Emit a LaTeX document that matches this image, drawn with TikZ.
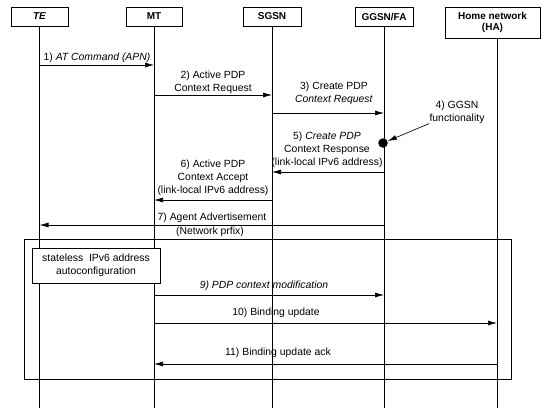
\documentclass[tikz,border=0pt]{standalone}
\usepackage{fontspec}
\setmainfont{Liberation Sans}
\usetikzlibrary{arrows.meta}

\begin{document}
\begin{tikzpicture}[x=1pt,y=-1pt,line width=0.65pt,
  font=\fontsize{10.4}{12.8}\selectfont,
  head/.style={draw,minimum height=19pt,inner sep=1pt,font=\fontsize{10}{11.5}\selectfont\bfseries},
  msg/.style={-{Latex[length=9pt,width=5pt]}},
  lbl/.style={align=center,inner sep=0pt}]
  \useasboundingbox (0,0) rectangle (549,410);
  \node[head,minimum width=57pt] (te) at (39.5,16.5) {\itshape TE};
  \node[head,minimum width=56pt] (mt) at (154,16.5) {MT};
  \node[head,minimum width=58pt] (sgsn) at (272,16.5) {SGSN};
  \node[head,minimum width=58pt] (ggsn) at (384,16.5) {GGSN/FA};
  \node[head,minimum width=95pt,minimum height=31pt,align=center] (ha) at (492.5,22.5) {Home network\\(HA)};
  \foreach \n in {te,mt,sgsn,ggsn}
    \draw (\n.south) -- (\n |- 0,408);
  \coordinate (hal) at (497,38);
  \draw (hal) -- (hal |- 0,408);

  \draw[msg] (te |- 0,65) -- (mt |- 0,65);
  \node[lbl] (l1) at (97,57.5) {1) \textit{AT Command (APN)}};
  \draw[msg] (mt |- 0,95) -- (sgsn |- 0,95);
  \node[lbl] (l2) at (213,82) {2) Active PDP\\Context Request};
  \draw[msg] (sgsn |- 0,113) -- (ggsn |- 0,113);
  \node[lbl] (l3) at (334,93) {3) Create PDP\\\textit{Context Request}};
  \node[circle,fill,inner sep=0pt,minimum size=9.5pt] (dot) at (383,143) {};
  \node[lbl] (l4) at (457,112) {4) GGSN\\functionality};
  \draw[msg] (l4.south west) -- (dot);
  \draw[msg] (ggsn |- 0,172) -- (sgsn |- 0,172);
  \node[lbl] (l5) at (327,150) {5) \textit{Create PDP}\\Context Response\\(link-local IPv6 address)};
  \draw[msg] (sgsn |- 0,200) -- (mt |- 0,200);
  \node[lbl] (l6) at (213,178) {6) Active PDP\\Context Accept\\(link-local IPv6 address)};
  \draw[msg] (ggsn |- 0,225) -- (te |- 0,225);
  \node[lbl] (l7a) at (212,217.5) {7) Agent Advertisement};
  \node[lbl] (l7b) at (210,232) {(Network prfix)};

  \draw (24,239) rectangle (511,379);
  \node[draw,fill=white,align=center,minimum width=128pt,minimum height=35pt,inner sep=1pt] (auto) at (96,265.5) {stateless\ \ IPv6 address\\autoconfiguration};
  \draw[msg] (mt |- 0,295) -- (ggsn |- 0,295);
  \node[lbl] (l9) at (264,286) {\itshape 9) PDP context modification};
  \draw[msg] (mt |- 0,323) -- (hal |- 0,323);
  \node[lbl] (l10) at (276,313) {10) Binding update};
  \draw[msg] (hal |- 0,364) -- (mt |- 0,364);
  \node[lbl] (l11) at (278,353) {11) Binding update ack};
\end{tikzpicture}
\end{document}
